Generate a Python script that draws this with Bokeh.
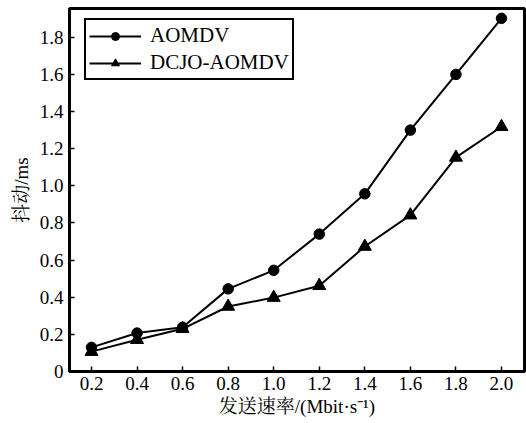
from bokeh.plotting import figure
from bokeh.models import Legend, LegendItem, FixedTicker, Range1d
from bokeh.embed import file_html
from bokeh.resources import INLINE

rates = [0.2, 0.4, 0.6, 0.8, 1.0, 1.2, 1.4, 1.6, 1.8, 2.0]
aomdv = [0.13, 0.207, 0.238, 0.445, 0.545, 0.74, 0.957, 1.30, 1.60, 1.902]
dcjo = [0.107, 0.171, 0.23, 0.35, 0.398, 0.462, 0.673, 0.842, 1.153, 1.318]
x_ticks = [0.2, 0.4, 0.6, 0.8, 1.0, 1.2, 1.4, 1.6, 1.8, 2.0]
y_ticks = [0, 0.2, 0.4, 0.6, 0.8, 1.0, 1.2, 1.4, 1.6, 1.8]
x_label = "发送速率/(Mbit·s⁻¹)"
y_label = "抖动/ms"
names = ["AOMDV", "DCJO-AOMDV"]
x_min, x_max = 0.1034, 2.101
y_min, y_max = 0, 1.955

FONT = "'Liberation Serif', 'Noto Serif CJK SC', 'Noto Sans CJK SC', serif"

p = figure(width=526, height=423, output_backend="svg", toolbar_location=None,
           x_range=Range1d(x_min, x_max), y_range=Range1d(y_min, y_max),
           min_border_left=69, min_border_right=2, min_border_top=8, min_border_bottom=52)
p.xgrid.visible = False
p.ygrid.visible = False
p.outline_line_color = "black"
p.outline_line_width = 3
p.outline_line_alpha = 1
p.background_fill_color = "white"
p.border_fill_color = "white"

for ax, ticks in ((p.xaxis[0], x_ticks), (p.yaxis[0], y_ticks)):
    ax.ticker = FixedTicker(ticks=ticks)
    ax.major_tick_in = 5
    ax.major_tick_out = 0
    ax.minor_tick_line_color = None
    ax.axis_line_width = 2
    ax.major_tick_line_width = 1.5
    ax.axis_line_color = "black"
    ax.major_tick_line_color = "black"
    ax.major_label_text_font = FONT
    ax.major_label_text_font_size = "19px"
    ax.major_label_text_color = "black"
    ax.axis_label_text_font = FONT
    ax.axis_label_text_font_size = "19px"
    ax.axis_label_text_font_style = "normal"
    ax.axis_label_text_color = "black"

p.xaxis[0].axis_label = x_label
p.yaxis[0].axis_label = y_label
p.xaxis[0].major_label_overrides = {t: f"{t:.1f}" for t in x_ticks}
p.yaxis[0].major_label_overrides = {t: ("0" if t == 0 else f"{t:.1f}") for t in y_ticks}
p.xaxis[0].major_label_standoff = 5
p.xaxis[0].axis_label_standoff = 3
p.yaxis[0].major_label_standoff = 6
p.yaxis[0].axis_label_standoff = 5

l1 = p.line(rates, aomdv, line_color="black", line_width=2)
m1 = p.scatter(rates, aomdv, marker="circle", size=10.5, fill_color="black", line_color="black")
l2 = p.line(rates, dcjo, line_color="black", line_width=2)
m2 = p.scatter(rates, dcjo, marker="triangle", size=13, fill_color="black", line_color="black")

legend = Legend(items=[LegendItem(label=names[0], renderers=[l1, m1]),
                       LegendItem(label=names[1], renderers=[l2, m2])],
                location=(15, 291))
legend.label_text_font = FONT
legend.label_text_font_size = "21px"
legend.label_text_color = "black"
legend.border_line_color = "black"
legend.border_line_width = 2
legend.border_line_alpha = 1
legend.glyph_width = 52
legend.glyph_height = 20
legend.label_height = 20
legend.label_standoff = 9
legend.spacing = 2
legend.padding = 3
legend.margin = 0
legend.background_fill_color = "white"
legend.background_fill_alpha = 1
p.add_layout(legend, "center")

open("out.html", "w").write(file_html(p, INLINE))
